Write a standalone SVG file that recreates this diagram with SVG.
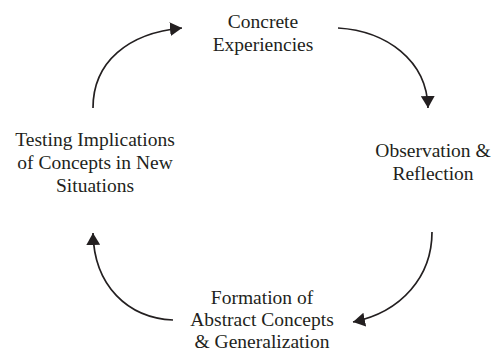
<svg xmlns="http://www.w3.org/2000/svg" width="492" height="352" viewBox="0 0 492 352">
  <defs>
    <marker id="head" viewBox="0 0 12 14" refX="12" refY="7" markerWidth="12" markerHeight="14" markerUnits="userSpaceOnUse" orient="auto">
      <path d="M0,0 L12,7 L0,14 Z" fill="#231f20"/>
    </marker>
  </defs>
  <style>
    .label { font-family: 'Liberation Serif', 'Times New Roman', 'DejaVu Serif', serif; font-size: 19.5px; fill: #231f20; text-anchor: middle; }
    .edge { fill: none; stroke: #231f20; stroke-width: 1.7; marker-end: url(#head); }
  </style>
  <rect width="492" height="352" fill="#ffffff"/>

  <g id="connectors">
    <path class="edge" d="M93,108 C93,62 128,33 182,28"/>
    <path class="edge" d="M338,28 C386,31 427,60 428,108"/>
    <path class="edge" d="M432,232 C432,276 402,312 353,322"/>
    <path class="edge" d="M173,320 C128,318 94,286 93,233"/>
  </g>

  <g id="concrete-experiencies">
    <text class="label" x="263" y="28">Concrete</text>
    <text class="label" x="263" y="51">Experiencies</text>
  </g>

  <g id="observation-reflection">
    <text class="label" x="433" y="157">Observation &amp;</text>
    <text class="label" x="433" y="180">Reflection</text>
  </g>

  <g id="abstract-concepts">
    <text class="label" x="262" y="304">Formation of</text>
    <text class="label" x="262" y="326">Abstract Concepts</text>
    <text class="label" x="262" y="348">&amp; Generalization</text>
  </g>

  <g id="testing-implications">
    <text class="label" x="95" y="146">Testing Implications</text>
    <text class="label" x="95" y="169">of Concepts in New</text>
    <text class="label" x="95" y="192">Situations</text>
  </g>
</svg>
